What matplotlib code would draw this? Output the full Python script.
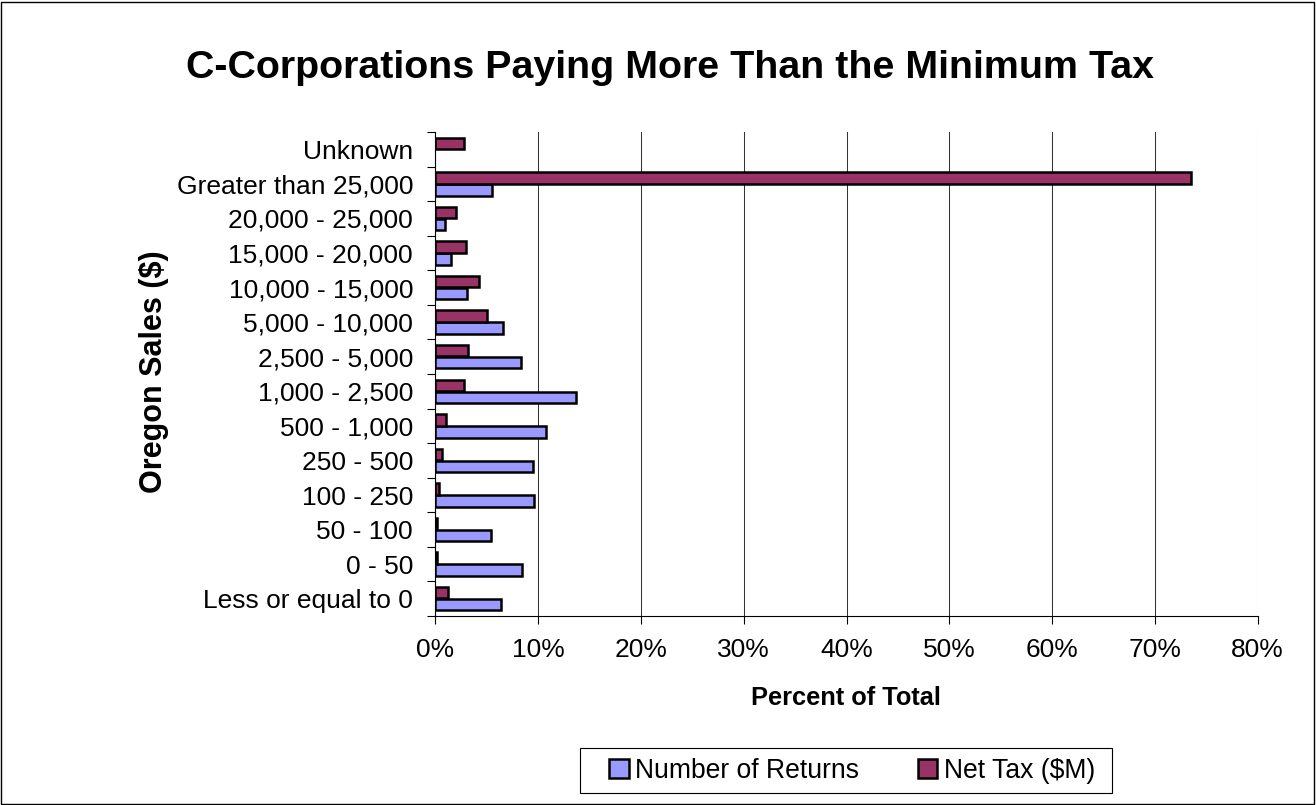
import numpy as np
import matplotlib
matplotlib.use("Agg")
import matplotlib.pyplot as plt
from matplotlib.patches import Rectangle
from matplotlib.ticker import PercentFormatter, FixedLocator

plt.rcParams["font.family"] = ["Liberation Sans", "DejaVu Sans"]

# Oregon sales classes ($1,000s), bottom to top
categories = ["Less or equal to 0", "0 - 50", "50 - 100", "100 - 250", "250 - 500",
              "500 - 1,000", "1,000 - 2,500", "2,500 - 5,000", "5,000 - 10,000",
              "10,000 - 15,000", "15,000 - 20,000", "20,000 - 25,000",
              "Greater than 25,000", "Unknown"]

# percent of total (no returns figure for "Unknown")
number_of_returns = [6.4, 8.4, 5.4, 9.6, 9.5, 10.8, 13.7, 8.3, 6.6, 3.1, 1.5, 0.9, 5.5, np.nan]
net_tax = [1.2, 0.2, 0.15, 0.4, 0.65, 1.05, 2.8, 3.2, 5.0, 4.25, 2.95, 2.0, 73.5, 2.75]

x_ticks = [0, 10, 20, 30, 40, 50, 60, 70, 80]

W, H = 1316, 805
fig = plt.figure(figsize=(W / 100, H / 100), dpi=100)

# chart border
fig.patches.append(Rectangle((1 / W, 1 / H), 1 - 3 / W, 1 - 3 / H, transform=fig.transFigure,
                             fill=False, edgecolor="black", linewidth=1.0))

ax = fig.add_axes([435.3 / W, (H - 616) / H, 822.4 / W, 484 / H])

y = np.arange(len(categories))
bh = 0.33
ax.barh(y - 0.175, number_of_returns, height=bh, color="#9999FF",
        edgecolor="black", linewidth=1.8, label="Number of Returns", zorder=3)
ax.barh(y + 0.175, net_tax, height=bh, color="#993366",
        edgecolor="black", linewidth=1.8, label="Net Tax ($M)", zorder=3)

ax.set_xlim(0, 80)
ax.set_ylim(-0.5, len(categories) - 0.5)

ax.xaxis.set_major_locator(FixedLocator(x_ticks))
ax.xaxis.set_major_formatter(PercentFormatter(xmax=100, decimals=0))
ax.grid(axis="x", color="#333333", linewidth=0.75, zorder=0)

ax.set_yticks(y)
ax.set_yticklabels(categories)
ax.yaxis.set_minor_locator(FixedLocator(np.arange(-0.5, len(categories), 1.0)))
ax.tick_params(axis="y", which="major", length=0, pad=16, labelsize=19)
ax.tick_params(axis="y", which="minor", length=6, width=0.8, direction="out")
ax.tick_params(axis="x", length=6, width=0.8, direction="out", pad=10, labelsize=19)

for s in ["top", "right"]:
    ax.spines[s].set_visible(False)
for s in ["left", "bottom"]:
    ax.spines[s].set_linewidth(0.8)

fig.text(670 / W, 1 - 68 / H, "C-Corporations Paying More Than the Minimum Tax",
         ha="center", va="center", fontsize=28.4, fontweight="bold")
fig.text(846 / W, 1 - 698 / H, "Percent of Total", ha="center", va="center",
         fontsize=18.3, fontweight="bold")
fig.text(154 / W, 1 - 372 / H, "Oregon Sales ($)", ha="center", va="center",
         rotation=90, fontsize=22, fontweight="bold")

# legend with its own box, centred under the plot area
fig.patches.append(Rectangle((580 / W, 1 - 793 / H), 532 / W, 45 / H, transform=fig.transFigure,
                             fill=False, edgecolor="black", linewidth=0.8))
fig.legend(loc="center", bbox_to_anchor=(852 / W, 1 - 771 / H), ncol=2, frameon=False,
           fontsize=19.1, handlelength=0.75, handleheight=0.75, handletextpad=0.25,
           columnspacing=2.2, borderpad=0)

fig.savefig("out.png", dpi=100)
